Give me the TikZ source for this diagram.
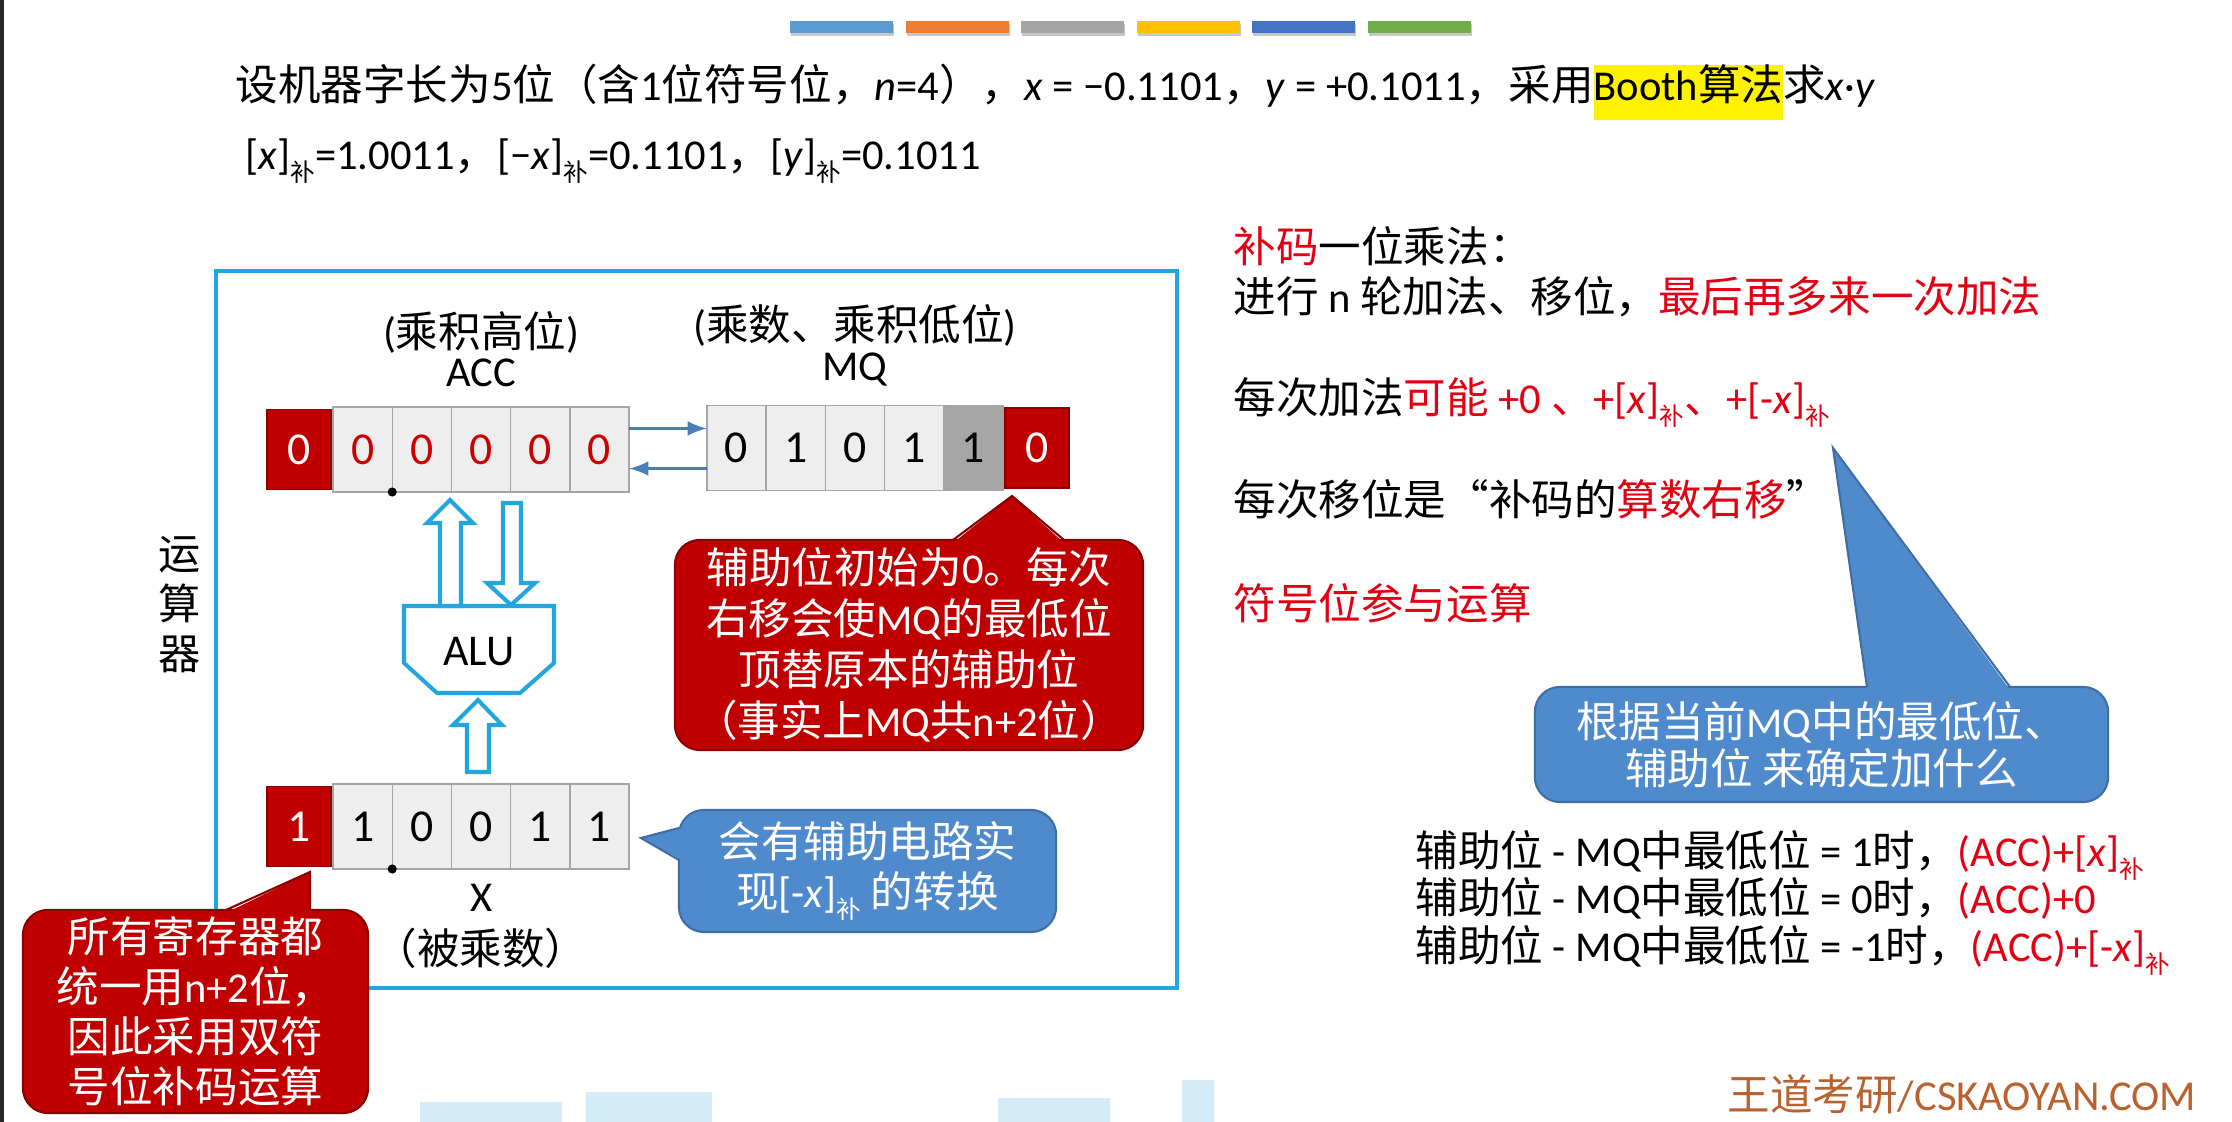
\documentclass[tikz,border=0pt]{standalone}
\usepackage{fontspec}
\setmainfont{Carlito}
\newfontfamily\cjk{Noto Sans CJK SC}
\usetikzlibrary{positioning}

% runs of CJK characters switch to the CJK family on their own
\XeTeXinterchartokenstate=1
\newXeTeXintercharclass\cjkclass
\newcount\cjkcode
\cjkcode=0
\loop\ifnum\cjkcode<"3000 \XeTeXcharclass\cjkcode=0 \advance\cjkcode by 1 \repeat
\cjkcode="3000
\loop\ifnum\cjkcode<"3040 \XeTeXcharclass\cjkcode=\cjkclass \advance\cjkcode by 1 \repeat
\cjkcode="4E00
\loop\ifnum\cjkcode<"A000 \XeTeXcharclass\cjkcode=\cjkclass \advance\cjkcode by 1 \repeat
\cjkcode="FF00
\loop\ifnum\cjkcode<"FF60 \XeTeXcharclass\cjkcode=\cjkclass \advance\cjkcode by 1 \repeat
\XeTeXcharclass"201C=\cjkclass
\XeTeXcharclass"201D=\cjkclass
\XeTeXinterchartoks 0 \cjkclass = {\begingroup\cjk}
\XeTeXinterchartoks 4095 \cjkclass = {\begingroup\cjk}
\XeTeXinterchartoks \cjkclass 0 = {\endgroup}
\XeTeXinterchartoks \cjkclass 4095 = {\endgroup}

\definecolor{frameblue}{RGB}{35,165,222}
\definecolor{cellfill}{RGB}{238,238,238}
\definecolor{cellline}{RGB}{165,165,165}
\definecolor{darkcell}{RGB}{166,166,166}
\definecolor{signred}{RGB}{192,0,0}
\definecolor{signline}{RGB}{140,0,0}
\definecolor{noteblue}{RGB}{79,139,204}
\definecolor{noteline}{RGB}{63,110,165}
\definecolor{linkblue}{RGB}{74,126,187}
\definecolor{emph}{RGB}{226,0,18}
\definecolor{accred}{RGB}{205,0,0}
\definecolor{brand}{RGB}{185,98,48}
\definecolor{glitch}{RGB}{212,237,248}
\definecolor{barA}{RGB}{91,155,213}
\definecolor{barB}{RGB}{237,125,49}
\definecolor{barC}{RGB}{165,165,165}
\definecolor{barD}{RGB}{255,192,0}
\definecolor{barE}{RGB}{68,114,196}
\definecolor{barF}{RGB}{112,173,71}

\newcommand\bodyfs{\fontsize{12.1pt}{14.5pt}\selectfont}
\newcommand\bsub{\raisebox{-3.2pt}{\fontsize{7pt}{8pt}\selectfont 补}}
\newcommand\hilite[1]{{\setlength{\fboxsep}{0pt}\colorbox{yellow}{\rule[-0.45em]{0pt}{1.25em}#1}}}

\begin{document}
\begin{tikzpicture}[x=0.01cm, y=-0.01cm,
    every node/.style={inner sep=0pt, font=\bodyfs},
    textline/.style={anchor=base west},
    cell/.style={draw=cellline, fill=cellfill, outer sep=0pt, minimum width=0.592cm, minimum height=0.85cm, font=\fontsize{13pt}{14pt}\selectfont},
    signcell/.style={draw=signline, fill=signred, text=white, outer sep=0pt, minimum width=0.64cm, minimum height=0.8cm, font=\fontsize{13pt}{14pt}\selectfont},
    fatarrow/.style={draw=frameblue, fill=white, line width=1.15pt},
    note/.style={rounded corners=0.25cm, align=center, text=white, line width=0.6pt},
    rednote/.style={note, fill=signred, draw=signline},
    bluenote/.style={note, fill=noteblue, draw=noteline},
    topbar/.style={preaction={fill=black!22, transform canvas={shift={(1,3)}}}}
]
\useasboundingbox (0,0) rectangle (2232,1122);
\fill[white] (0,0) rectangle (2232,1122);
\fill[black!85] (0,0) rectangle (4,1122);

% slide bars
\fill[barA, topbar] (790,21) rectangle (893,33);
\fill[barB, topbar] (905.5,21) rectangle (1008.5,33);
\fill[barC, topbar] (1021,21) rectangle (1124,33);
\fill[barD, topbar] (1136.5,21) rectangle (1239.5,33);
\fill[barE, topbar] (1252,21) rectangle (1355,33);
\fill[barF, topbar] (1367.5,21) rectangle (1470.5,33);

% task
\node[textline] (task) at (235,101) {设机器字长为5位（含1位符号位，\textit{n}=4），\textit{x} = −0.1101，\textit{y} = +0.1011，采用\hilite{Booth算法}求\textit{x}·\textit{y}};
\node[textline] (codes) at (245,170) {[\textit{x}]\bsub=1.0011，[−\textit{x}]\bsub=0.1101，[\textit{y}]\bsub=0.1011};

% arithmetic unit
\draw[frameblue, line width=1pt] (216,271) rectangle (1177,988);
\node[align=center, font=\fontsize{12pt}{14.2pt}\selectfont] (unitname) at (180,605) {运\\算\\器};

\node[cell, text=accred] (acc1) at (362.6,449.5) {0};
\node[cell, text=accred, right=0pt of acc1] (acc2) {0};
\node[cell, text=accred, right=0pt of acc2] (acc3) {0};
\node[cell, text=accred, right=0pt of acc3] (acc4) {0};
\node[cell, text=accred, right=0pt of acc4] (acc5) {0};
\node[signcell, left=0.02cm of acc1] (accsign) {0};
\node[above=0.19cm of acc3] (accname) {ACC};
\node[above=0.05cm of accname] (acchint) {(乘积高位)};

\node[cell] (mq1) at (736.5,448) {0};
\node[cell, right=0pt of mq1] (mq2) {1};
\node[cell, right=0pt of mq2] (mq3) {0};
\node[cell, right=0pt of mq3] (mq4) {1};
\node[cell, fill=darkcell, right=0pt of mq4] (mq5) {1};
\node[signcell, right=0.02cm of mq5] (mqaux) {0};
\node[above=0.19cm of mq3] (mqname) {MQ};
\node[above=0.05cm of mqname] (mqhint) {(乘数、乘积低位)};

\node[cell] (x1) at (362.6,826.5) {1};
\node[cell, right=0pt of x1] (x2) {0};
\node[cell, right=0pt of x2] (x3) {0};
\node[cell, right=0pt of x3] (x4) {1};
\node[cell, right=0pt of x4] (x5) {1};
\node[signcell, left=0.02cm of x1] (xsign) {1};
\node[below=0.145cm of x3] (xname) {X};
\node[below=0.155cm of xname] (xhint) {（被乘数）};

\fill (acc1.south east) circle[radius=1.3pt];
\fill (x1.south east) circle[radius=1.3pt];

\draw[linkblue, line width=0.9pt, -latex] ([yshift=0.21cm]acc5.east) -- ([yshift=0.21cm]acc5.east -| mq1.west);
\draw[linkblue, line width=0.9pt, -latex] ([yshift=-0.19cm]acc5.east -| mq1.west) -- ([yshift=-0.19cm]acc5.east);

% ALU and the wide arrows
\draw[fatarrow] (404,606) -- (554,606) -- (554,663) -- (520,693) -- (437,693) -- (404,663) -- cycle;
\node[font=\fontsize{12.5pt}{14pt}\selectfont] (alu) at (479,652) {ALU};
\draw[fatarrow] (440,606) -- (440,523) -- (427,523) -- (450,500) -- (473,523) -- (461,523) -- (461,606) -- cycle;
\draw[fatarrow] (503,503) -- (503,583) -- (487,583) -- (511,605) -- (535,583) -- (521,583) -- (521,503) -- cycle;
\draw[fatarrow] (467,772) -- (467,725) -- (453,725) -- (478,700) -- (502,725) -- (489,725) -- (489,772) -- cycle;

% callouts
\node[rednote, minimum width=4.68cm, minimum height=2.1cm, font=\fontsize{12.1pt}{14.5pt}\selectfont] (auxnote) at (909,645) {辅助位初始为0。每次\\右移会使MQ的最低位\\顶替原本的辅助位\\（事实上MQ共n+2位）};
\coordinate (auxtip) at (1012,496);
\fill[signred] (953,543) -- (auxtip) -- (1064,543) -- cycle;
\draw[signline, line width=0.6pt] (953,540) -- (auxtip) -- (1064,540);

\node[bluenote, minimum width=3.77cm, minimum height=1.22cm, font=\fontsize{12.1pt}{14.2pt}\selectfont] (xnote) at (867.5,871) {会有辅助电路实\\现[-\textit{x}]\bsub{} 的转换};
\coordinate (xtip) at (641,838);
\fill[noteblue] (682,828) -- (xtip) -- (682,860) -- cycle;
\draw[noteline, line width=0.6pt] (679,828) -- (xtip) -- (679,860);

\node[rednote, minimum width=3.45cm, minimum height=2.03cm, font=\fontsize{12.1pt}{14.2pt}\selectfont] (regnote) at (195.5,1011.5) {所有寄存器都\\统一用n+2位，\\因此采用双符\\号位补码运算};
\coordinate (regtip) at (310,872);
\fill[signred] (226,913) -- (regtip) -- (310,913) -- cycle;
\draw[signline, line width=0.6pt] (226,910) -- (regtip) -- (310,910);

\node[bluenote, minimum width=5.73cm, minimum height=1.15cm, font=\fontsize{12.1pt}{13.4pt}\selectfont] (picknote) at (1821.5,744.5) {根据当前MQ中的最低位、\\辅助位 来确定加什么};
\coordinate (picktip) at (1833,448);
\fill[noteblue] (1867,690) -- (picktip) -- (2010,690) -- cycle;
\draw[noteline, line width=0.6pt] (1867,687) -- (picktip) -- (2010,687);

% notes on the right
\node[textline] (mulhead) at (1233,263) {\textcolor{emph}{补码}一位乘法：};
\node[textline] (rounds) at (1233,313) {进行 n 轮加法、移位，\textcolor{emph}{最后再多来一次加法}};
\node[textline] (addcase) at (1233,414) {每次加法\textcolor{emph}{可能 +0 、+[\textit{x}]\bsub{}、+[-\textit{x}]\bsub}};
\node[textline] (shiftcase) at (1233,516) {每次移位是“补码的\textcolor{emph}{算数右移}”};
\node[textline] (signcase) at (1233,620) {\textcolor{emph}{符号位参与运算}};

\node[textline] (case1) at (1415,867) {辅助位 - MQ中最低位 = 1时，\textcolor{emph}{(ACC)+[\textit{x}]\bsub}};
\node[textline] (case2) at (1415,914) {辅助位 - MQ中最低位 = 0时，\textcolor{emph}{(ACC)+0}};
\node[textline] (case3) at (1415,962) {辅助位 - MQ中最低位 = -1时，\textcolor{emph}{(ACC)+[-\textit{x}]\bsub}};

\node[textline, text=brand] (brand) at (1727,1111) {王道考研/CSKAOYAN.COM};

% frame residue at the bottom edge
\fill[glitch] (420,1102) rectangle (562,1122);
\fill[glitch] (586,1092) rectangle (712,1122);
\fill[glitch] (998,1098) rectangle (1110,1122);
\fill[glitch] (1182,1080) rectangle (1214,1122);
\end{tikzpicture}
\end{document}
